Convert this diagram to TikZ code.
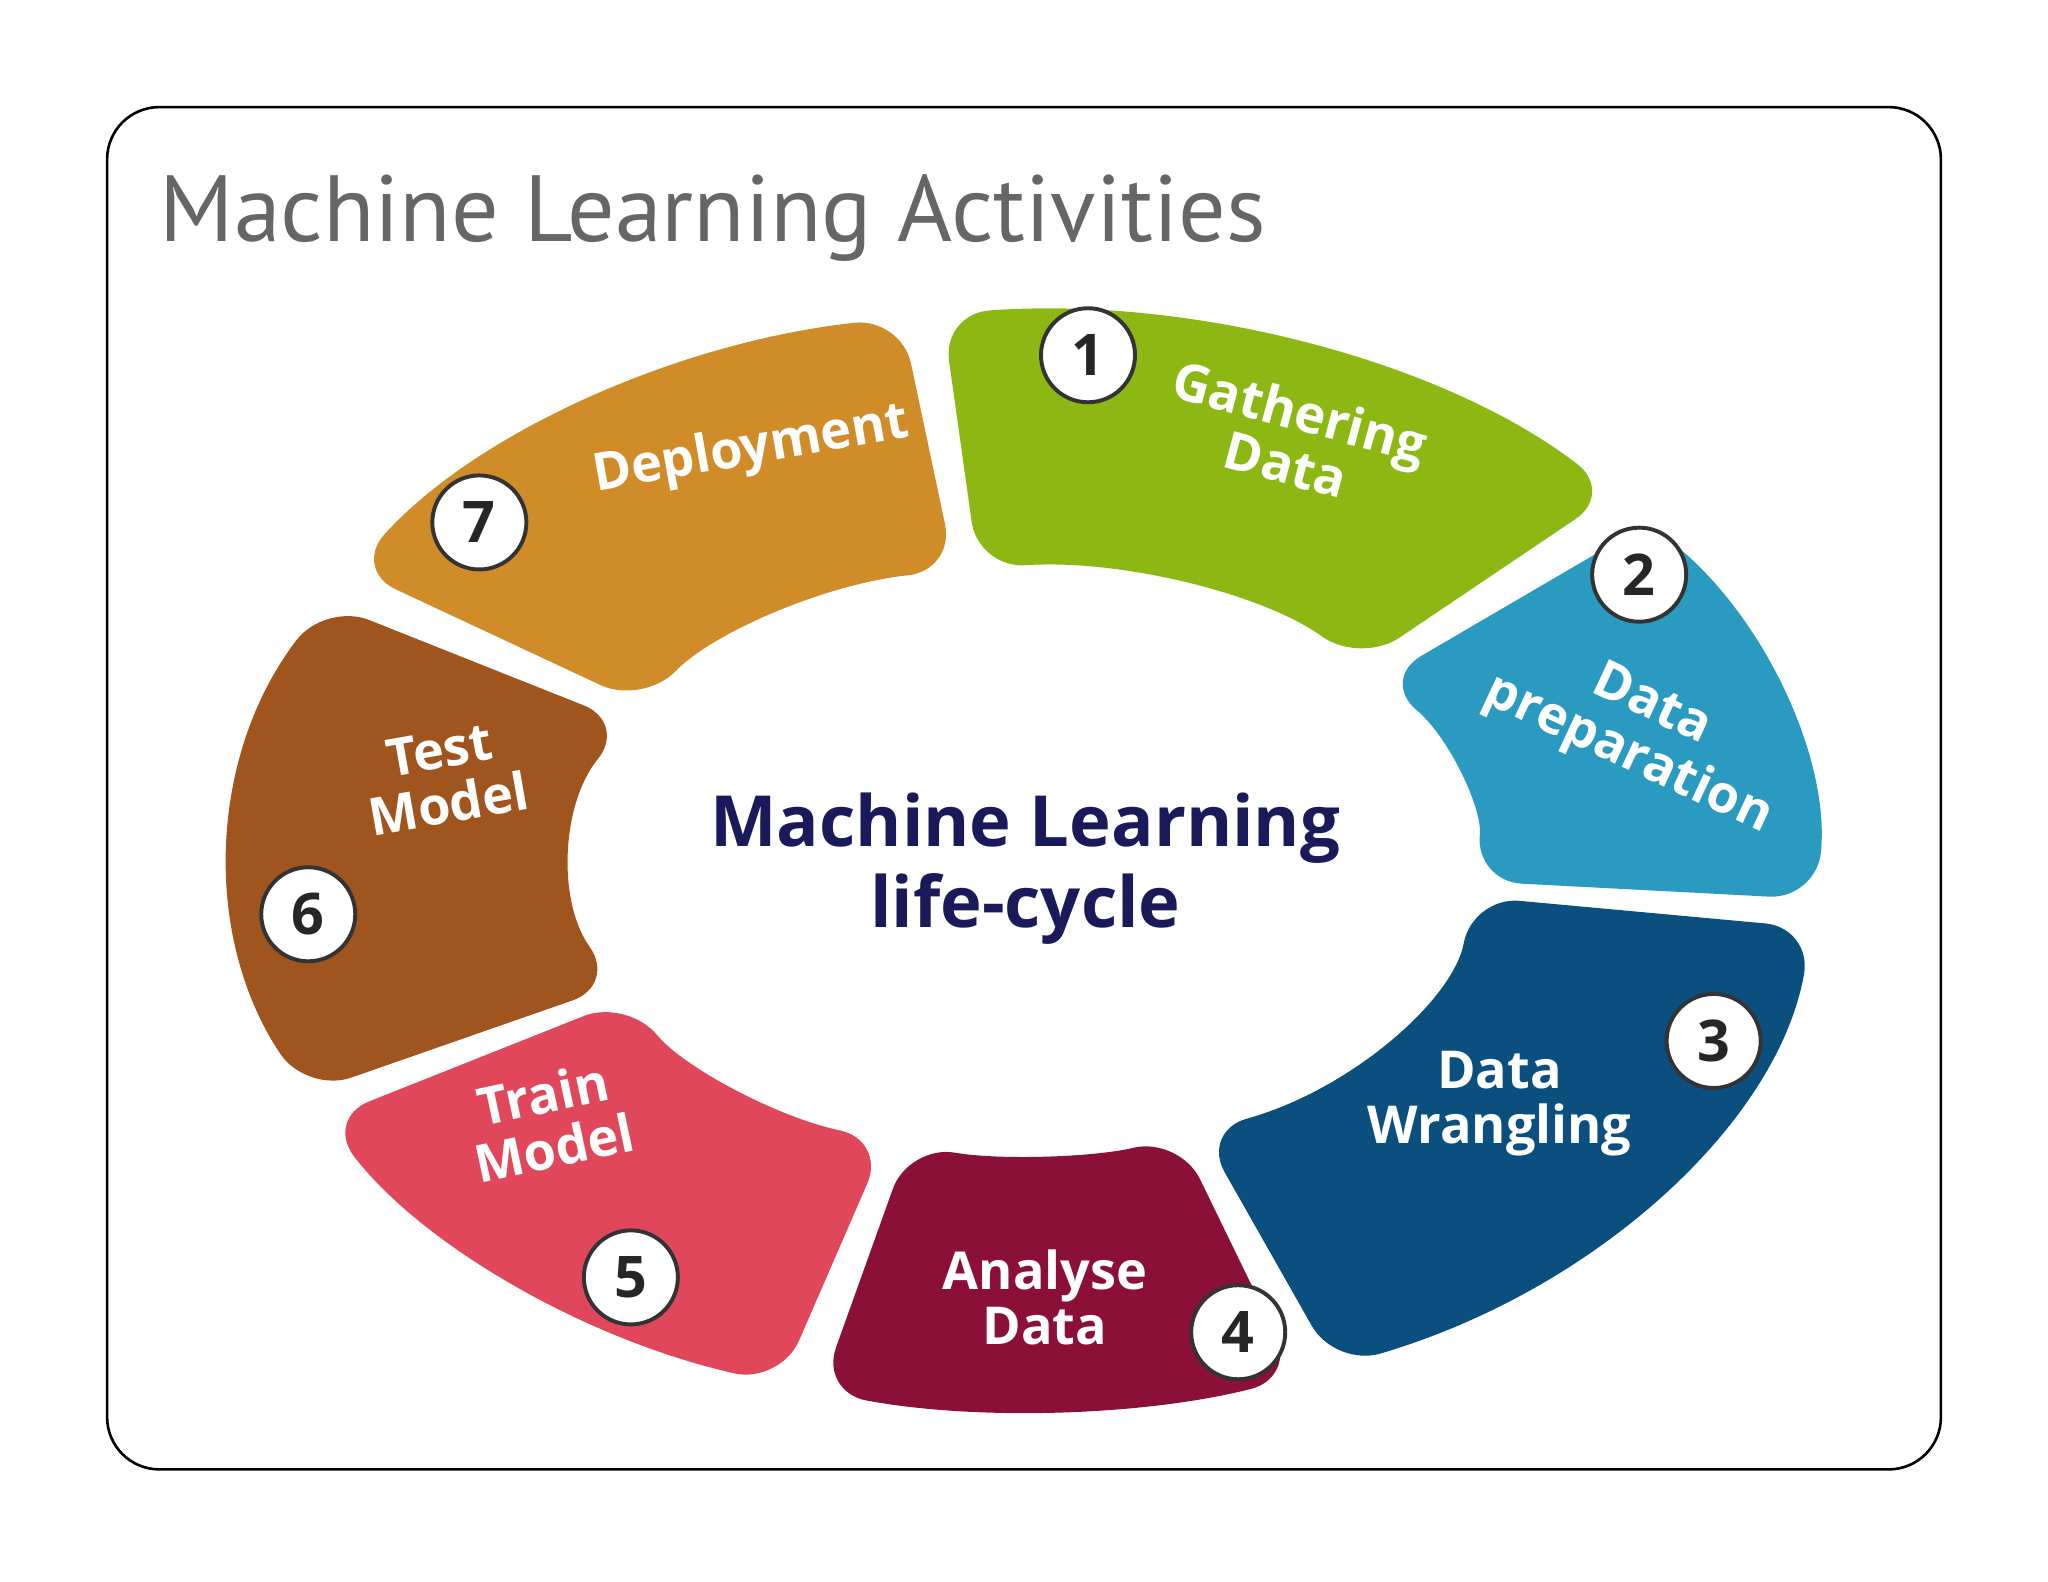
\documentclass[tikz,border=0pt]{standalone}
\usepackage{fontspec}
\usetikzlibrary{calc}
\setmainfont{Open Sans}
\newfontfamily\titlefont{PT Sans}
\definecolor{cg}{HTML}{8DB814}
\definecolor{cp}{HTML}{2A9AC0}
\definecolor{cw}{HTML}{0B4F7F}
\definecolor{ca}{HTML}{8B1038}
\definecolor{ct}{HTML}{E0475A}
\definecolor{cs}{HTML}{A0541E}
\definecolor{cd}{HTML}{D18C2A}
\definecolor{navy}{HTML}{1A1A5A}
\begin{document}
\begin{tikzpicture}[x=0.5pt,y=0.5pt,
  seg/.style={rounded corners=18pt},
  num/.style={circle,draw=black!80,line width=1.5pt,fill=white,minimum size=36pt,inner sep=0pt,font=\fontsize{22}{22}\selectfont\bfseries,text=black!85},
  lab/.style={text=white,align=center,font=\fontsize{20}{21}\selectfont\bfseries}]
\useasboundingbox (0,0) rectangle (1568,1211);
\node[draw=black,line width=1pt,rounded corners=20pt,minimum width=702pt,minimum height=521.5pt,inner sep=0pt] (frame) at (784,607.5) {};
\node[anchor=base west,inner sep=0pt,text=black!60,font=\titlefont\fontsize{36}{36}\selectfont] (title) at (122,1026) {Machine Learning Activities};
\coordinate (c) at (785,552);
\foreach \a/\b/\col in {42/96/cg,99/148/cd,152/205/cs,208/252/ct,255/290/ca,293/353/cw,356/398/cp}{
  \fill[\col,seg] ($(c)+(\a:607 and 421)$) arc[start angle=\a,end angle=\b,x radius=607,y radius=421]
    -- ($(c)+(\b:345 and 225)$) arc[start angle=\b,end angle=\a,x radius=345,y radius=225] -- cycle;
}
\node[num] (n1) at (833,939) {1};
\node[num] (n2) at (1255,771) {2};
\node[num] (n3) at (1312,414) {3};
\node[num] (n4) at (948,191) {4};
\node[num] (n5) at (483,233) {5};
\node[num] (n6) at (236,511) {6};
\node[num] (n7) at (367,811) {7};
\node[lab,rotate=-15] (l1) at (990,876) {Gathering\\Data};
\node[lab,rotate=-25] (l2) at (1255,651) {Data\\preparation};
\node[lab] (l3) at (1148,366) {Data\\Wrangling};
\node[lab] (l4) at (800,218) {Analyse\\Data};
\node[lab,rotate=12] (l5) at (420,353) {Train\\Model};
\node[lab,rotate=10] (l6) at (340,616) {Test\\Model};
\node[lab,rotate=10] (l7) at (575,866) {Deployment};
\node[text=navy,align=center,font=\fontsize{27}{31}\selectfont\bfseries] (ctr) at (785,546) {Machine Learning\\life-cycle};
\end{tikzpicture}
\end{document}
